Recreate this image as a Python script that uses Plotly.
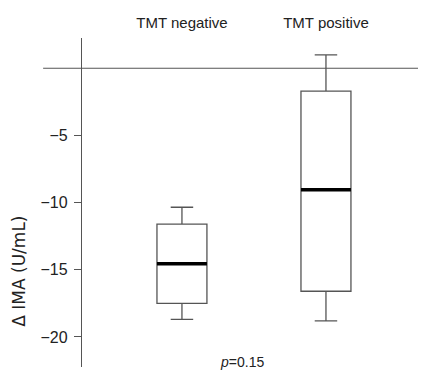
import plotly.graph_objects as go

categories = ["TMT negative", "TMT positive"]
lower_whisker = [-18.7, -18.8]
q1_vals = [-17.5, -16.6]
medians = [-14.55, -9.05]
q3_vals = [-11.6, -1.7]
upper_whisker = [-10.35, 1.0]
y_ticks = [-5, -10, -15, -20]
y_title = "Δ IMA (U/mL)"
p_label = "<i>p</i>=0.15"

line_col = "#555555"
font_family = "Liberation Sans, Arial, sans-serif"

fig = go.Figure()
fig.add_trace(go.Box(
    x=categories, q1=q1_vals, median=medians, q3=q3_vals,
    lowerfence=lower_whisker, upperfence=upper_whisker,
    width=0.347, whiskerwidth=0.45,
    fillcolor="white", line=dict(color=line_col, width=1.3),
    boxpoints=False, showlegend=False, hoverinfo="skip",
))
# thick black median bar
fig.add_trace(go.Box(
    x=categories, q1=medians, median=medians, q3=medians,
    lowerfence=medians, upperfence=medians,
    width=0.347, whiskerwidth=0,
    fillcolor="rgba(0,0,0,0)", line=dict(color="black", width=3.5),
    boxpoints=False, showlegend=False, hoverinfo="skip",
))

fig.add_shape(type="line", xref="paper", yref="y", x0=-0.115, x1=1.0,
              y0=0, y1=0, line=dict(color=line_col, width=1.2))

fig.add_annotation(text=y_title, xref="paper", yref="paper", x=-0.189, y=0.29,
                   xanchor="center", yanchor="middle",
                   textangle=-90, showarrow=False,
                   font=dict(size=17, color="#222", family="DejaVu Sans, sans-serif"))
fig.add_annotation(text=p_label, xref="paper", yref="paper", x=0.472, y=0.015,
                   xanchor="center", yanchor="middle", showarrow=False,
                   font=dict(size=14, color="#222", family=font_family))

fig.update_layout(
    width=418, height=378,
    margin=dict(l=74, r=6, t=28, b=19),
    paper_bgcolor="white", plot_bgcolor="white",
    boxmode="overlay",
    font=dict(family=font_family, size=15, color="#222"),
    xaxis=dict(type="category", side="top", range=[-0.694, 1.653],
               showline=False, showgrid=False, zeroline=False, ticks="",
               tickfont=dict(size=15), ticklabelstandoff=6, fixedrange=True),
    yaxis=dict(range=[-22.24, 2.25], tickvals=y_ticks, ticks="outside",
               ticklen=7, tickcolor=line_col, showline=True,
               linecolor=line_col, linewidth=1.3, showgrid=False,
               zeroline=False, tickfont=dict(size=16), ticklabelstandoff=3,
               fixedrange=True),
)

fig.write_html("out.html")
